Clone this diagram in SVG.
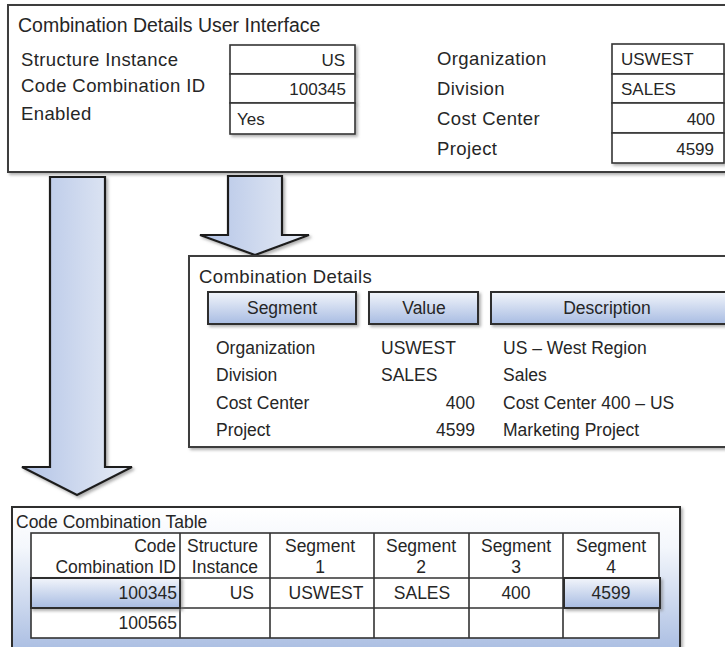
<svg xmlns="http://www.w3.org/2000/svg" width="725" height="647" viewBox="0 0 725 647">
<defs>
<style>
text{font-family:"Liberation Sans",Arial,sans-serif;fill:#262626}
.panel{fill:#ffffff;stroke:#3c3c3c;stroke-width:2}
.cell{fill:#ffffff;stroke:#333333;stroke-width:1.6}
.btn{fill:url(#btnGrad);stroke:#2e2e2e;stroke-width:2}
.arrow{fill:url(#arrowGrad);stroke:#1e1e1e;stroke-width:2.2;stroke-linejoin:miter}
.t19{font-size:19.5px}
.t18{font-size:18.5px;letter-spacing:0.4px}
.t17{font-size:17px}
.t175{font-size:17.5px}
.e{text-anchor:end}
.m{text-anchor:middle}
</style>
<linearGradient id="arrowGrad" x1="0" y1="0" x2="1" y2="0">
<stop offset="0" stop-color="#b2c3e6"/>
<stop offset="1" stop-color="#e8edf6"/>
</linearGradient>
<linearGradient id="btnGrad" x1="0" y1="0" x2="0" y2="1">
<stop offset="0" stop-color="#f2f5fb"/>
<stop offset="1" stop-color="#a8bce2"/>
</linearGradient>
<linearGradient id="tableGrad" x1="0" y1="0" x2="0" y2="1">
<stop offset="0" stop-color="#ffffff"/>
<stop offset="0.25" stop-color="#f4f7fc"/>
<stop offset="1" stop-color="#9fb5de"/>
</linearGradient>
<filter id="shadow" x="-5%" y="-5%" width="115%" height="125%">
<feDropShadow dx="2" dy="2" stdDeviation="1.5" flood-color="#7a7a7a" flood-opacity="0.6"/>
</filter>
</defs>

<g id="combination-details-ui">
<rect class="panel" x="8" y="5" width="730" height="167" filter="url(#shadow)"/>
<text class="t19" x="18" y="32">Combination Details User Interface</text>
<text class="t18" x="21" y="66">Structure Instance</text>
<text class="t18" x="21" y="92">Code Combination ID</text>
<text class="t18" x="21" y="120">Enabled</text>
<rect class="cell" x="230" y="45" width="125" height="29" filter="url(#shadow)"/>
<rect class="cell" x="230" y="74" width="125" height="29" filter="url(#shadow)"/>
<rect class="cell" x="230" y="103" width="125" height="31" filter="url(#shadow)"/>
<text class="t17 e" x="345" y="66">US</text>
<text class="t17 e" x="346" y="95">100345</text>
<text class="t17" x="237" y="125">Yes</text>
<text class="t18" x="437" y="65">Organization</text>
<text class="t18" x="437" y="95">Division</text>
<text class="t18" x="437" y="125">Cost Center</text>
<text class="t18" x="437" y="155">Project</text>
<rect class="cell" x="612" y="44" width="112" height="30" filter="url(#shadow)"/>
<rect class="cell" x="612" y="74" width="112" height="29" filter="url(#shadow)"/>
<rect class="cell" x="612" y="103" width="112" height="30" filter="url(#shadow)"/>
<rect class="cell" x="612" y="133" width="112" height="30" filter="url(#shadow)"/>
<text class="t17" x="621" y="65">USWEST</text>
<text class="t17" x="621" y="95">SALES</text>
<text class="t17 e" x="715" y="125">400</text>
<text class="t17 e" x="714" y="155">4599</text>
</g>

<g id="connectors">
<path class="arrow" filter="url(#shadow)" d="M50,177 L105,177 L105,467 L132,467 L77,495 L22,467 L50,467 Z"/>
<path class="arrow" filter="url(#shadow)" d="M228,176 L282,176 L282,235 L309,235 L255,255 L200,235 L228,235 Z"/>
</g>

<g id="combination-details">
<rect class="panel" x="189" y="256" width="546" height="191" filter="url(#shadow)"/>
<text class="t18" x="199" y="283">Combination Details</text>
<rect class="btn" x="208" y="292" width="148" height="32" filter="url(#shadow)"/>
<rect class="btn" x="369" y="292" width="109" height="32" filter="url(#shadow)"/>
<rect class="btn" x="491" y="292" width="240" height="32" filter="url(#shadow)"/>
<text class="t175 m" x="282" y="314">Segment</text>
<text class="t175 m" x="424" y="314">Value</text>
<text class="t175 m" x="607" y="314">Description</text>
<text class="t175" x="216" y="354">Organization</text>
<text class="t175" x="216" y="381">Division</text>
<text class="t175" x="216" y="409">Cost Center</text>
<text class="t175" x="216" y="436">Project</text>
<text class="t175" x="381" y="354">USWEST</text>
<text class="t175" x="381" y="381">SALES</text>
<text class="t175 e" x="475" y="409">400</text>
<text class="t175 e" x="475" y="436">4599</text>
<text class="t175" x="503" y="354">US – West Region</text>
<text class="t175" x="503" y="381">Sales</text>
<text class="t175" x="503" y="409">Cost Center 400 – US</text>
<text class="t175" x="503" y="436">Marketing Project</text>
</g>

<g id="code-combination-table">
<rect x="12" y="507" width="668" height="160" fill="url(#tableGrad)" stroke="#2e2e2e" stroke-width="2" filter="url(#shadow)"/>
<text class="t175" x="16" y="528">Code Combination Table</text>
<g>
<rect class="cell" x="31" y="533" width="628" height="105"/>
<path d="M180,533V638 M270,533V638 M374,533V638 M469,533V638 M563,533V638 M31,578H659 M31,608H659" stroke="#333333" stroke-width="1.6" fill="none"/>
</g>
<text class="t175 e" x="176" y="552">Code</text>
<text class="t175 e" x="176" y="573">Combination ID</text>
<text class="t175 e" x="258" y="552">Structure</text>
<text class="t175 e" x="258" y="573">Instance</text>
<text class="t175 m" x="320" y="552">Segment</text>
<text class="t175 m" x="320" y="573">1</text>
<text class="t175 m" x="421" y="552">Segment</text>
<text class="t175 m" x="421" y="573">2</text>
<text class="t175 m" x="516" y="552">Segment</text>
<text class="t175 m" x="516" y="573">3</text>
<text class="t175 m" x="611" y="552">Segment</text>
<text class="t175 m" x="611" y="573">4</text>
<rect class="btn" x="31" y="578" width="149" height="30" filter="url(#shadow)"/>
<rect class="btn" x="564" y="578" width="96" height="30" filter="url(#shadow)"/>
<text class="t175 e" x="177" y="599">100345</text>
<text class="t175 e" x="254" y="599">US</text>
<text class="t175 m" x="326" y="599">USWEST</text>
<text class="t175 m" x="422" y="599">SALES</text>
<text class="t175 m" x="516" y="599">400</text>
<text class="t175 m" x="611" y="599">4599</text>
<text class="t175 e" x="177" y="629">100565</text>
</g>
</svg>
